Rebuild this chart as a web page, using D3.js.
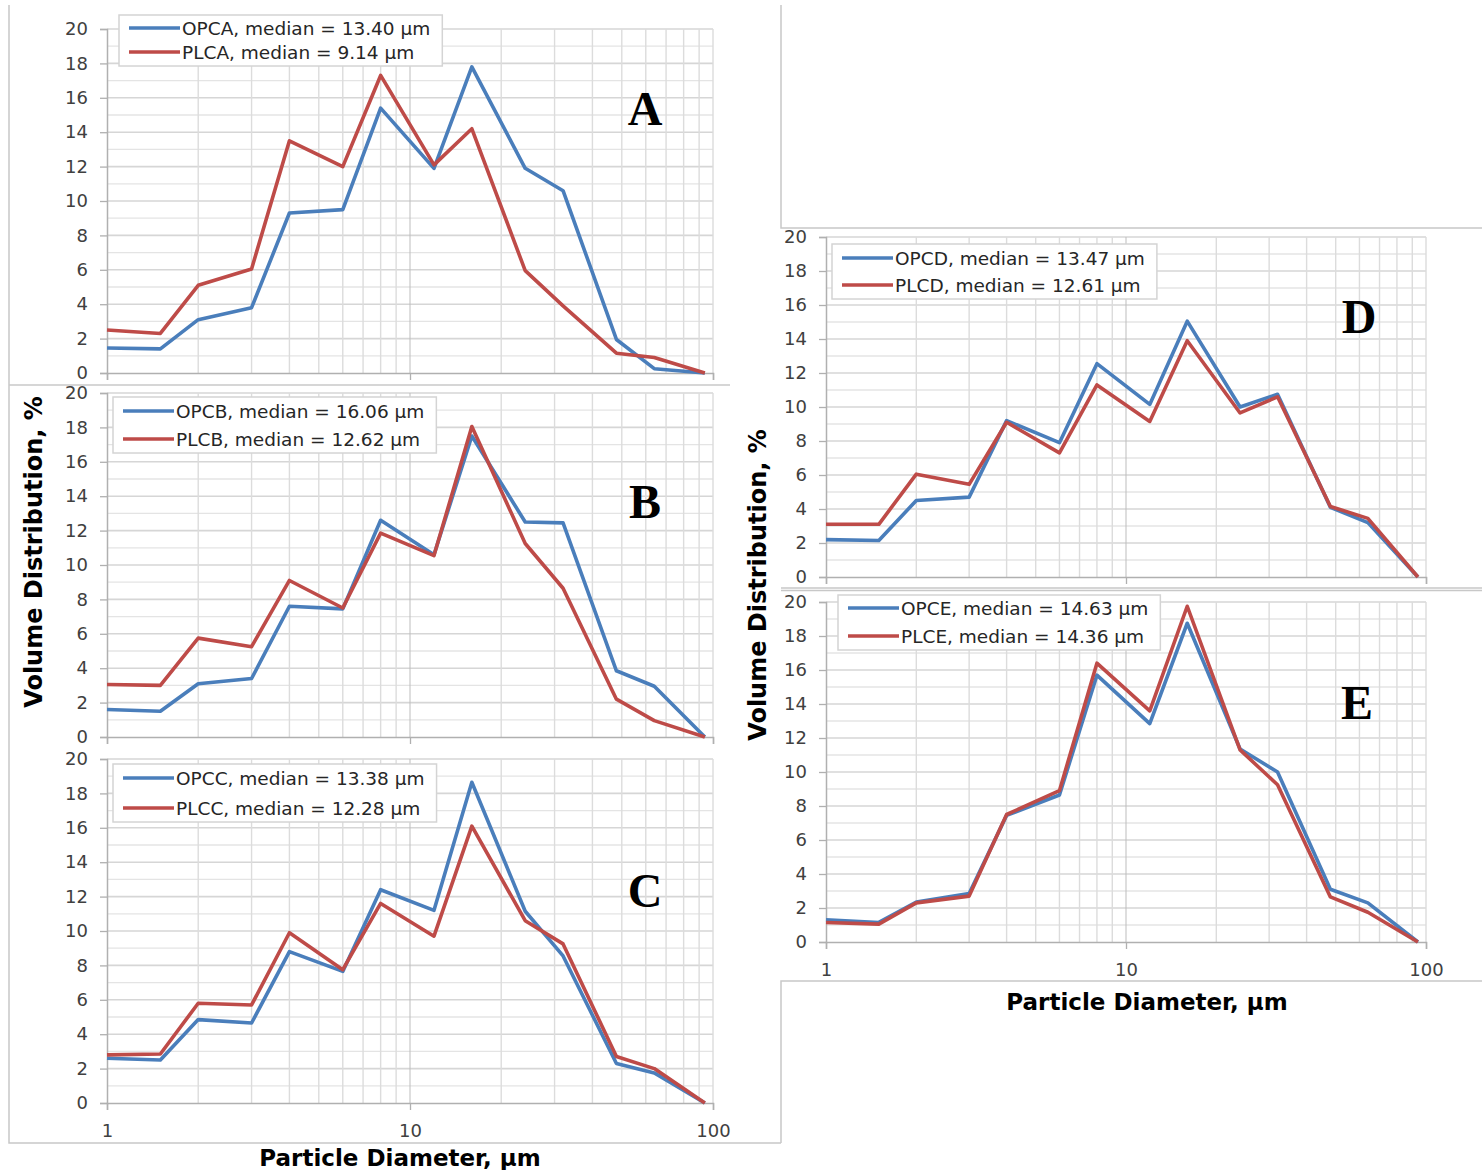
<!DOCTYPE html>
<html lang="en">
<head>
<meta charset="UTF-8">
<title>Particle size distributions A-E</title>
<script src="https://cdnjs.cloudflare.com/ajax/libs/d3/7.8.5/d3.min.js"></script>
<style>
    body { margin: 0; background: #fff; }
    svg { display: block; }
    .tick-label { font-family: "DejaVu Sans", sans-serif; font-size: 18px; fill: #404040; }
    .legend-text { font-family: "DejaVu Sans", sans-serif; font-size: 18.5px; fill: #262626; }
    .axis-title { font-family: "DejaVu Sans", sans-serif; font-weight: bold; fill: #000; }
    .panel-letter { font-family: "Liberation Serif", "Times New Roman", serif; font-weight: bold; font-size: 48px; fill: #000; }
</style>
</head>
<body>
<div id="chart"></div>
<script>
// --- data ---
const diameters = [1, 1.5, 2, 3, 4, 6, 8, 12, 16, 24, 32, 48, 64, 94];   // µm
const xTickValues = [1, 10, 100];
const yTickValues = [0, 2, 4, 6, 8, 10, 12, 14, 16, 18, 20];

const opcA = [1.45, 1.4, 3.1, 3.8, 9.3, 9.5, 15.4, 11.9, 17.8, 11.9, 10.6, 1.95, 0.25, 0];
const plcA = [2.5, 2.3, 5.1, 6.05, 13.5, 12.0, 17.3, 12.1, 14.2, 5.95, 3.9, 1.15, 0.9, 0];
const opcB = [1.6, 1.5, 3.1, 3.4, 7.6, 7.45, 12.6, 10.6, 17.5, 12.5, 12.45, 3.85, 2.95, 0];
const plcB = [3.05, 3.0, 5.75, 5.25, 9.1, 7.5, 11.85, 10.55, 18.05, 11.25, 8.65, 2.2, 0.95, 0];
const opcC = [2.6, 2.5, 4.85, 4.65, 8.8, 7.65, 12.4, 11.2, 18.65, 11.15, 8.55, 2.3, 1.75, 0];
const plcC = [2.8, 2.85, 5.8, 5.7, 9.9, 7.75, 11.6, 9.7, 16.1, 10.6, 9.25, 2.7, 2.0, 0];
const opcD = [2.2, 2.15, 4.5, 4.7, 9.2, 7.9, 12.55, 10.15, 15.05, 10.0, 10.75, 4.1, 3.2, 0];
const plcD = [3.1, 3.1, 6.05, 5.45, 9.1, 7.3, 11.3, 9.15, 13.9, 9.65, 10.6, 4.15, 3.45, 0];
const opcE = [1.3, 1.15, 2.35, 2.85, 7.45, 8.65, 15.7, 12.85, 18.75, 11.35, 10.0, 3.1, 2.3, 0];
const plcE = [1.15, 1.05, 2.3, 2.7, 7.5, 8.9, 16.4, 13.6, 19.75, 11.3, 9.25, 2.65, 1.75, 0];

const panelLabels = ["A", "B", "C", "D", "E"];
const opcSeries = [opcA, opcB, opcC, opcD, opcE];
const plcSeries = [plcA, plcB, plcC, plcD, plcE];
const opcMedians = ["13.40", "16.06", "13.38", "13.47", "14.63"];
const plcMedians = ["9.14", "12.62", "12.28", "12.61", "14.36"];

const yTitle = "Volume Distribution, %";
const xTitle = "Particle Diameter, µm";

// --- layout (pixels) ---
const width = 1482, height = 1170;
const layout = [
    { left: 107, right: 713, top: 29,  bottom: 373,  showX: false, legend: [119, 15, 28, 52],  letter: [645, 125] },
    { left: 107, right: 713, top: 393, bottom: 737,  showX: false, legend: [113, 397, 411, 439], letter: [645, 518] },
    { left: 107, right: 713, top: 759, bottom: 1103, showX: true,  legend: [113, 764, 778, 808], letter: [645, 907] },
    { left: 826, right: 1426, top: 237, bottom: 577, showX: false, legend: [832, 244, 258, 285], letter: [1359, 333] },
    { left: 826, right: 1426, top: 602, bottom: 942, showX: true,  legend: [838, 595, 608, 636], letter: [1357, 719] }
];

const blue = "#4a7ebb", red = "#be4b48";

const svg = d3.select("#chart").append("svg")
    .attr("width", width)
    .attr("height", height)
    .attr("viewBox", [0, 0, width, height]);

// frame lines of the pasted chart boxes
const frameColor = "#c8c8c8";
const frames = svg.append("g").attr("stroke", frameColor).attr("stroke-width", 1.5).attr("fill", "none");
frames.append("path").attr("d", "M9,5V1143H781");
frames.append("path").attr("d", "M9,385H730");
frames.append("path").attr("d", "M781,5V228H1482");
frames.append("path").attr("d", "M781,588H1482M781,590.5H1482");
frames.append("path").attr("d", "M781,1143V981H1482");

// minor grid values on log axis
const xGrid = [];
[1, 10].forEach(dec => { for (let k = 2; k <= 9; k++) xGrid.push(k * dec); });

layout.forEach((L, i) => {
    const x = d3.scaleLog().domain([1, 100]).range([L.left, L.right]);
    const y = d3.scaleLinear().domain([0, 20]).range([L.bottom, L.top]);
    const g = svg.append("g");

    // horizontal grid, every 1 unit
    g.append("g").selectAll("line")
        .data(d3.range(1, 21))
        .join("line")
        .attr("x1", L.left).attr("x2", L.right)
        .attr("y1", d => y(d)).attr("y2", d => y(d))
        .attr("stroke", d => d % 2 === 0 ? "#d6d6d6" : "#e4e4e4")
        .attr("stroke-width", d => d % 2 === 0 ? 1.6 : 1.3);

    // vertical grid
    g.append("g").selectAll("line")
        .data(xGrid.concat([100]))
        .join("line")
        .attr("x1", d => x(d)).attr("x2", d => x(d))
        .attr("y1", L.top).attr("y2", L.bottom)
        .attr("stroke", "#dcdcdc")
        .attr("stroke-width", 1.4);
    g.append("line")
        .attr("x1", x(10)).attr("x2", x(10))
        .attr("y1", L.top).attr("y2", L.bottom)
        .attr("stroke", "#bdbdbd").attr("stroke-width", 1);

    // y axis
    const yAxis = g.append("g")
        .attr("transform", `translate(${L.left},0)`)
        .call(d3.axisLeft(y).tickValues(yTickValues).tickSize(7).tickPadding(12));
    yAxis.select(".domain").attr("stroke", "#b0b0b0").attr("stroke-width", 1.5);
    yAxis.selectAll(".tick line").attr("stroke", "#b0b0b0").attr("stroke-width", 1.3);
    yAxis.selectAll(".tick text").attr("class", "tick-label").attr("font-family", null).attr("font-size", null).attr("fill", null);

    // x axis
    const xAxis = g.append("g")
        .attr("transform", `translate(0,${L.bottom})`)
        .call(d3.axisBottom(x).tickValues(xTickValues).tickFormat(d3.format("d")).tickSize(7).tickPadding(14));
    xAxis.select(".domain").attr("stroke", "#b0b0b0").attr("stroke-width", 1.5);
    xAxis.selectAll(".tick line").attr("stroke", "#b0b0b0").attr("stroke-width", 1.3);
    xAxis.selectAll(".tick text").attr("class", "tick-label").attr("font-family", null).attr("font-size", null).attr("fill", null)
        .style("display", L.showX ? null : "none");

    // series lines
    const line = d3.line()
        .x((d, j) => x(diameters[j]))
        .y(d => y(d));
    [[opcSeries[i], blue], [plcSeries[i], red]].forEach(([vals, col]) => {
        g.append("path")
            .datum(vals)
            .attr("d", line)
            .attr("fill", "none")
            .attr("stroke", col)
            .attr("stroke-width", 3.6)
            .attr("stroke-linejoin", "round");
    });

    // legend
    const [lx, ly, r1, r2] = L.legend;
    const lg = g.append("g");
    const box = lg.append("rect")
        .attr("x", lx).attr("y", ly)
        .attr("height", (r2 - ly) + 14)
        .attr("fill", "#fff").attr("stroke", "#d4d4d4").attr("stroke-width", 1.5);
    const entries = [
        { row: r1, color: blue, text: `OPC${panelLabels[i]}, median = ${opcMedians[i]} µm` },
        { row: r2, color: red,  text: `PLC${panelLabels[i]}, median = ${plcMedians[i]} µm` }
    ];
    let maxEnd = 0;
    entries.forEach(e => {
        lg.append("line")
            .attr("x1", lx + 10).attr("x2", lx + 61)
            .attr("y1", e.row).attr("y2", e.row)
            .attr("stroke", e.color).attr("stroke-width", 3.6);
        const t = lg.append("text")
            .attr("class", "legend-text")
            .attr("x", lx + 63).attr("y", e.row + 6.5)
            .text(e.text);
        maxEnd = Math.max(maxEnd, lx + 63 + t.node().getComputedTextLength());
    });
    box.attr("width", maxEnd + 12 - lx);

    // panel letter
    g.append("text")
        .attr("class", "panel-letter")
        .attr("x", L.letter[0]).attr("y", L.letter[1])
        .attr("text-anchor", "middle")
        .text(panelLabels[i]);
});

// axis titles
svg.append("text").attr("class", "axis-title")
    .attr("transform", "translate(42,552) rotate(-90)")
    .attr("text-anchor", "middle").attr("font-size", 24)
    .text(yTitle);
svg.append("text").attr("class", "axis-title")
    .attr("transform", "translate(766,585) rotate(-90)")
    .attr("text-anchor", "middle").attr("font-size", 24)
    .text(yTitle);
svg.append("text").attr("class", "axis-title")
    .attr("x", 400).attr("y", 1166)
    .attr("text-anchor", "middle").attr("font-size", 23)
    .text(xTitle);
svg.append("text").attr("class", "axis-title")
    .attr("x", 1147).attr("y", 1010)
    .attr("text-anchor", "middle").attr("font-size", 23)
    .text(xTitle);
</script>
</body>
</html>
